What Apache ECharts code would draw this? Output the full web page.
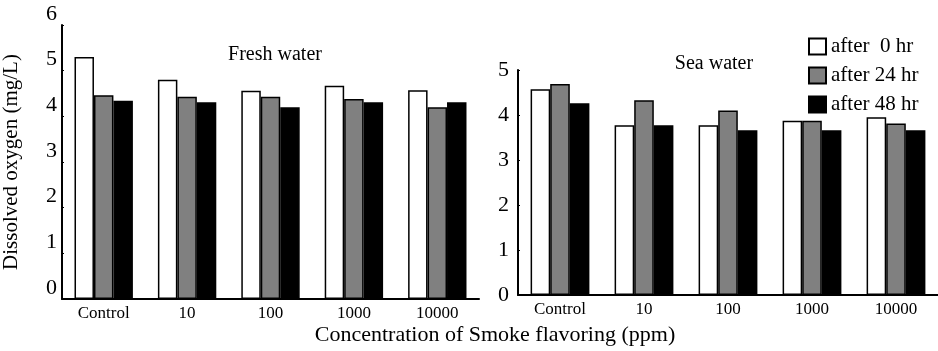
<!DOCTYPE html>
<html>
<head>
<meta charset="utf-8">
<script src="https://cdn.jsdelivr.net/npm/echarts@6/dist/echarts.min.js"></script>
<style>
  html, body { margin: 0; padding: 0; background: #fff; }
  #chart { width: 938px; height: 351px; }
</style>
</head>
<body>
<div id="chart"></div>
<script>
// 数据
var categories = ['Control', '10', '100', '1000', '10000'];
var seriesNames = ['after  0 hr', 'after 24 hr', 'after 48 hr'];
var fresh0 = [5.30, 4.80, 4.56, 4.67, 4.57];
var fresh24 = [4.46, 4.43, 4.43, 4.38, 4.20];
var fresh48 = [4.34, 4.31, 4.20, 4.31, 4.31];
var sea0 = [4.57, 3.77, 3.77, 3.87, 3.95];
var sea24 = [4.69, 4.33, 4.10, 3.87, 3.81];
var sea48 = [4.26, 3.77, 3.66, 3.66, 3.66];
var barColors = ['#ffffff', '#808080', '#000000'];

var serif = '"Liberation Serif", "DejaVu Serif", serif';

function makeBar(name, data, idx, color) {
	return {
		name: name,
		type: 'bar',
		xAxisIndex: idx,
		yAxisIndex: idx,
		data: data,
		barGap: 0,
		barCategoryGap: '30%',
		itemStyle: { color: color, borderColor: '#000', borderWidth: 1.5 }
	};
}

function makeXAxis(idx) {
	return {
		type: 'category',
		gridIndex: idx,
		data: categories,
		axisLine: { lineStyle: { color: '#000', width: 2 } },
		axisTick: { inside: true, length: 5, lineStyle: { color: '#000' } },
		axisLabel: { color: '#000', fontFamily: serif, fontSize: 17, margin: 6 }
	};
}

var option = {
	animation: false,
	backgroundColor: '#fff',
	grid: [
		{ left: 62, top: 25, width: 417, bottom: 52 },
		{ left: 518, top: 70, width: 421, bottom: 56 }
	],
	legend: {
		orient: 'vertical',
		left: 803,
		top: 31,
		icon: 'rect',
		itemWidth: 17,
		itemHeight: 16,
		itemGap: 8,
		data: seriesNames,
		textStyle: { color: '#000', fontFamily: serif, fontSize: 21 }
	},
	xAxis: [makeXAxis(0), makeXAxis(1)],
	yAxis: [
		{
			type: 'value',
			gridIndex: 0,
			min: 0, max: 6, interval: 1,
			name: 'Dissolved oxygen (mg/L)',
			nameLocation: 'middle',
			nameGap: 40,
			nameTextStyle: { color: '#000', fontFamily: serif, fontSize: 21 },
			splitLine: { show: false },
			axisLine: { show: true, lineStyle: { color: '#000', width: 2 } },
			axisTick: { show: true, inside: true, length: 2, lineStyle: { color: '#000' } },
			axisLabel: { color: '#000', fontFamily: serif, fontSize: 22, margin: 5, verticalAlign: 'bottom' }
		},
		{
			type: 'value',
			gridIndex: 1,
			min: 0, max: 5, interval: 1,
			splitLine: { show: false },
			axisLine: { show: true, lineStyle: { color: '#000', width: 2 } },
			axisTick: { show: true, inside: true, length: 2, lineStyle: { color: '#000' } },
			axisLabel: { color: '#000', fontFamily: serif, fontSize: 22, margin: 9 }
		}
	],
	graphic: [
		{ type: 'text', x: 275, y: 55, style: { text: 'Fresh water', fill: '#000', font: '20px ' + serif, textAlign: 'center', textVerticalAlign: 'middle' } },
		{ type: 'text', x: 714, y: 64, style: { text: 'Sea water', fill: '#000', font: '20px ' + serif, textAlign: 'center', textVerticalAlign: 'middle' } },
		{ type: 'text', x: 495, y: 335, style: { text: 'Concentration of Smoke flavoring (ppm)', fill: '#000', font: '22px ' + serif, textAlign: 'center', textVerticalAlign: 'middle' } }
	],
	series: [
		makeBar(seriesNames[0], fresh0, 0, barColors[0]),
		makeBar(seriesNames[1], fresh24, 0, barColors[1]),
		makeBar(seriesNames[2], fresh48, 0, barColors[2]),
		makeBar(seriesNames[0], sea0, 1, barColors[0]),
		makeBar(seriesNames[1], sea24, 1, barColors[1]),
		makeBar(seriesNames[2], sea48, 1, barColors[2])
	]
};

var myChart = echarts.init(document.getElementById('chart'));
myChart.setOption(option);
</script>
</body>
</html>
